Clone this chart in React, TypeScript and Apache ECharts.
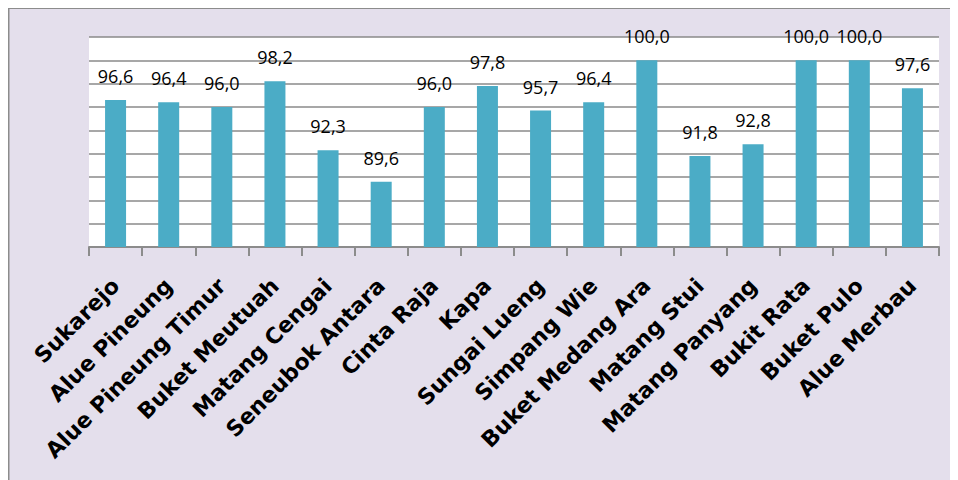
import React, { useEffect, useRef } from "react";
import * as echarts from "echarts";

const categories = [
  "Sukarejo",
  "Alue Pineung",
  "Alue Pineung Timur",
  "Buket Meutuah",
  "Matang Cengai",
  "Seneubok Antara",
  "Cinta Raja",
  "Kapa",
  "Sungai Lueng",
  "Simpang Wie",
  "Buket Medang Ara",
  "Matang Stui",
  "Matang Panyang",
  "Bukit Rata",
  "Buket Pulo",
  "Alue Merbau",
];

const values = [96.6, 96.4, 96.0, 98.2, 92.3, 89.6, 96.0, 97.8, 95.7, 96.4, 100.0, 91.8, 92.8, 100.0, 100.0, 97.6];

const yMin = 84;
const yMax = 102;
const yStep = 2;

export default function App() {
  const ref = useRef<HTMLDivElement>(null);

  useEffect(() => {
    if (!ref.current) return;
    const chart = echarts.init(ref.current, undefined, { renderer: "svg" });
    chart.setOption({
      animation: false,
      backgroundColor: "#E4DFEC",
      grid: {
        left: 81,
        right: 19,
        top: 29,
        bottom: 233,
        show: true,
        backgroundColor: "#FFFFFF",
        borderWidth: 0,
      },
      graphic: [
        {
          type: "line",
          shape: { x1: 0.5, y1: 0, x2: 0.5, y2: 472 },
          style: { stroke: "#8C8C8C", lineWidth: 2 },
        },
        {
          type: "line",
          shape: { x1: 0, y1: 0, x2: 950, y2: 0 },
          style: { stroke: "#8C8C8C", lineWidth: 2 },
        },
      ],
      xAxis: {
        type: "category",
        data: categories,
        axisLine: { show: true, lineStyle: { color: "#8C8C8C", width: 2 } },
        axisTick: { show: true, length: 9, lineStyle: { color: "#8C8C8C", width: 2 } },
        axisLabel: {
          rotate: 45,
          interval: 0,
          margin: 35,
          color: "#000",
          fontFamily: "DejaVu Sans",
          fontWeight: "bold",
          fontSize: 22,
        },
      },
      yAxis: {
        type: "value",
        min: yMin,
        max: yMax,
        interval: yStep,
        axisLine: { show: false },
        axisTick: { show: false },
        axisLabel: { show: false },
        splitLine: { show: true, lineStyle: { color: "#8A8A8A", width: 1.5 } },
      },
      series: [
        {
          type: "bar",
          data: values,
          barWidth: 21,
          itemStyle: { color: "#4BACC6" },
          label: {
            show: true,
            position: "top",
            distance: 15,
            color: "#000",
            fontFamily: "Open Sans",
            fontSize: 18,
            formatter: (p: any) => Number(p.value).toFixed(1).replace(".", ","),
          },
        },
      ],
    });
    return () => chart.dispose();
  }, []);

  return <div ref={ref} style={{ width: 950, height: 472 }} />;
}
